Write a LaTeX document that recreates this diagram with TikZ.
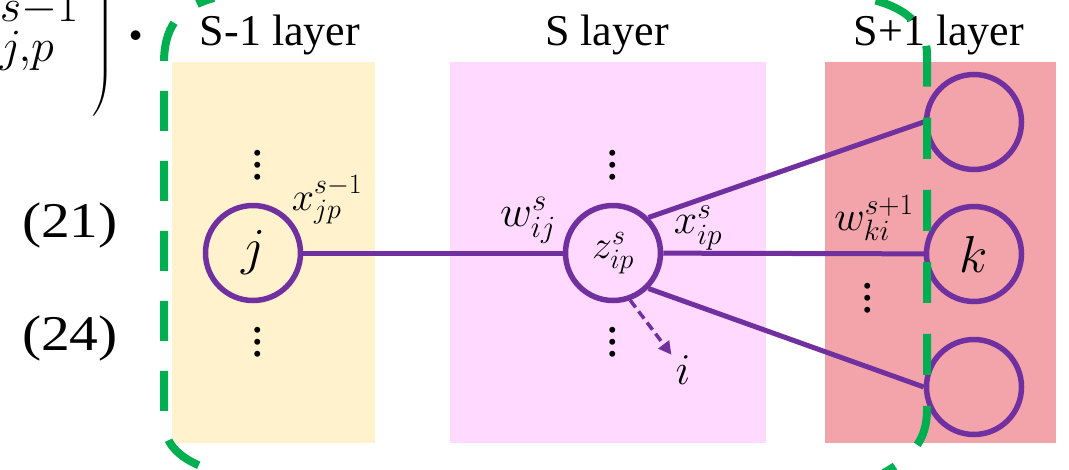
\documentclass[tikz,border=0pt]{standalone}
\usepackage{fix-cm}
\usepackage{exscale}
\usepackage[no-math]{fontspec}
\setmainfont{Liberation Serif}
\usetikzlibrary{arrows.meta}
\definecolor{nnpurple}{RGB}{112,48,160}
\definecolor{nngreen}{RGB}{0,176,80}
\definecolor{prevfill}{RGB}{255,242,204}
\definecolor{curfill}{RGB}{255,217,255}
\definecolor{nextfill}{RGB}{243,164,170}
\newcommand{\layerdots}{\vbox{\baselineskip=12pt\lineskiplimit=-100pt\hbox{.}\hbox{.}\hbox{.}}}

\begin{document}
\begin{tikzpicture}[
    x=1pt, y=-1pt,
    layerbox/.style={inner sep=0, minimum width=#1, minimum height=381pt},
    neuron/.style={circle, draw=nnpurple, line width=5.5pt, inner sep=0, minimum size=95pt},
    conn/.style={draw=nnpurple, line width=5pt},
    dasharrow/.style={draw=nnpurple, line width=3.5pt, dash pattern=on 9pt off 5pt,
        -{Triangle[length=13pt,width=13pt]}},
    boundary/.style={draw=nngreen, line width=8pt, dash pattern=on 40pt off 30pt},
    layerlabel/.style={anchor=base, font=\fontsize{44}{52}\selectfont},
    eqnum/.style={anchor=base, font=\fontsize{50}{60}\selectfont, xscale=1.15},
    mylabel/.style={inner sep=0, font=\fontsize{42}{50}\selectfont},
    dotsnode/.style={inner sep=0, font=\fontsize{50}{12}\selectfont},
    ]

    \useasboundingbox (0,0) rectangle (1069,469);
    \fill[white] (0,0) rectangle (1069,469);

    % cut-off end of the equation above
    \node[anchor=base east, inner sep=0, font=\fontsize{66}{80}\selectfont] (xfrag) at (79,45) {$x^{s-1}_{j,p}$};
    \node[inner sep=0, font=\fontsize{100}{120}\selectfont] (paren) at (103,-18) {$\left.\vrule height 110pt depth 110pt width 0pt\right)$};
    \node[anchor=base, inner sep=0, font=\fontsize{100}{120}\selectfont] (stop) at (136,40) {$.$};

    \node[eqnum] (eq21) at (70,237) {(21)};
    \node[eqnum] (eq24) at (70,350) {(24)};

    % layers
    \node[layerbox=203pt, fill=prevfill] (prev) at (273.5,252.5) {};
    \node[layerbox=316pt, fill=curfill] (cur) at (608,252.5) {};
    \node[layerbox=231pt, fill=nextfill] (next) at (940.5,252.5) {};

    \node[layerlabel] (prevlabel) at (280,45) {S-1 layer};
    \node[layerlabel] (curlabel) at (607,45) {S layer};
    \node[layerlabel] (nextlabel) at (939,45) {S+1 layer};

    \node[dotsnode] (prevdotsup) at (258,165) {\layerdots};
    \node[dotsnode] (prevdotsdown) at (258,342) {\layerdots};
    \node[dotsnode] (curdotsup) at (613,165) {\layerdots};
    \node[dotsnode] (curdotsdown) at (613,342) {\layerdots};
    \node[dotsnode] (nextdots) at (868,298) {\layerdots};

    % neurons
    \node[neuron, font=\fontsize{52}{60}\selectfont] (j) at (253,253) {$j$};
    \node[neuron, font=\fontsize{40}{48}\selectfont] (z) at (613,253) {$z^{s}_{ip}$};
    \node[neuron] (ktop) at (974,122) {};
    \node[neuron, font=\fontsize{52}{60}\selectfont] (k) at (974,254) {$k$};
    \node[neuron] (kbot) at (974,387) {};

    \draw[conn] (j) -- (z);
    \draw[conn] (z.north east) -- (ktop.west);
    \draw[conn] (z) -- (k);
    \draw[conn] (z.south east) -- (kbot.west);

    \node[mylabel, font=\fontsize{40}{48}\selectfont] (xprev) at (327,200) {$x^{s-1}_{jp}$};
    \node[mylabel, font=\fontsize{44}{52}\selectfont] (wcur) at (528,220) {$w^{s}_{ij}$};
    \node[mylabel] (xcur) at (698,228) {$x^{s}_{ip}$};
    \node[mylabel] (wnext) at (874,218) {$w^{s+1}_{ki}$};
    \node[mylabel, font=\fontsize{44}{52}\selectfont, inner sep=4pt] (i) at (683,370) {$i$};
    \draw[dasharrow] (z.-70) -- (i);

    % green dashed boundaries
    \draw[boundary, dash phase=22pt] (214,-2) .. controls (176,8) and (164,30) .. (164,63)
        -- (164,420) .. controls (164,445) and (180,460) .. (214,471);
    \draw[boundary, dash pattern=on 41pt off 31pt, dash phase=56pt] (860,-3) .. controls (905,5) and (927,25) .. (927,55)
        -- (927,410) .. controls (927,440) and (912,458) .. (880,475);
\end{tikzpicture}
\end{document}
